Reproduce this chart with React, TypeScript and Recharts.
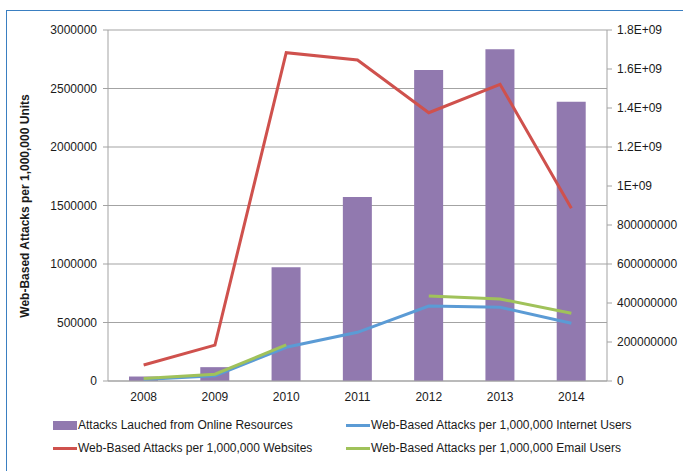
import { ComposedChart, Bar, Line, XAxis, YAxis, CartesianGrid } from 'recharts';

const YEARS = ['2008', '2009', '2010', '2011', '2012', '2013', '2014'];
const ATTACKS_LAUNCHED = [23000000, 71000000, 583000000, 944000000, 1595000000, 1701000000, 1432000000];
const PER_INTERNET_USERS = [12000, 45000, 288000, 416000, 641000, 630000, 493000];
const PER_WEBSITES = [137000, 307000, 2806000, 2744000, 2293000, 2536000, 1476000];
const PER_EMAIL_USERS = [22000, 58000, 308000, null, 727000, 701000, 579000];

const LEFT_TICKS = [0, 500000, 1000000, 1500000, 2000000, 2500000, 3000000];
const RIGHT_TICKS = [0, 200000000, 400000000, 600000000, 800000000, 1000000000, 1200000000, 1400000000, 1600000000, 1800000000];

const FONT = '"Liberation Sans", Arial, sans-serif';
const TEXT = '#1a1a1a';
const GRID = '#a3a3a3';

const SERIES = [
  { key: 'attacks', name: 'Attacks Lauched from Online Resources', color: '#9179af', kind: 'bar' },
  { key: 'internet', name: 'Web-Based Attacks per 1,000,000 Internet Users', color: '#5b9bd5', kind: 'line' },
  { key: 'websites', name: 'Web-Based Attacks per 1,000,000 Websites', color: '#cf514d', kind: 'line' },
  { key: 'email', name: 'Web-Based Attacks per 1,000,000 Email Users', color: '#a0c25a', kind: 'line' },
];

const data = YEARS.map((year, i) => ({
  year,
  attacks: ATTACKS_LAUNCHED[i],
  internet: PER_INTERNET_USERS[i],
  websites: PER_WEBSITES[i],
  email: PER_EMAIL_USERS[i],
}));

// excel style: big numbers go scientific
const rightFormat = (v: number) => (v >= 1e9 ? `${v / 1e9}E+09` : String(v));

const YTitle = () => (
  <text
    x={25}
    y={206}
    transform="rotate(-90 25 206)"
    textAnchor="middle"
    dominantBaseline="central"
    fontSize={12}
    fontWeight="bold"
    fill={TEXT}
    fontFamily={FONT}
  >
    Web-Based Attacks per 1,000,000 Units
  </text>
);

const legendPos = [
  { left: 53, top: 425 },
  { left: 346, top: 425 },
  { left: 53, top: 448 },
  { left: 346, top: 448 },
];

export default function App() {
  return (
    <div
      style={{
        position: 'absolute',
        left: 0,
        top: 0,
        width: 683,
        height: 471,
        overflow: 'hidden',
        background: '#fff',
        fontFamily: FONT,
      }}
    >
      <div
        style={{
          position: 'absolute',
          left: 6,
          top: 10,
          width: 720,
          height: 520,
          borderLeft: '1.5px solid #3a7fc1',
          borderTop: '1.5px solid #3a7fc1',
        }}
      />
      <div style={{ position: 'absolute', left: 0, top: 0 }}>
        <ComposedChart
          width={683}
          height={471}
          data={data}
          margin={{ top: 30, right: 0, left: 0, bottom: 0 }}
          style={{ fontFamily: FONT }}
        >
          <CartesianGrid yAxisId="left" vertical={false} stroke={GRID} />
          <XAxis
            dataKey="year"
            height={90}
            axisLine={{ stroke: GRID }}
            tickLine={false}
            tickSize={0}
            tickMargin={11}
            tick={{ fill: TEXT, fontSize: 12 }}
            interval={0}
          />
          <YAxis
            yAxisId="left"
            width={108}
            domain={[0, 3000000]}
            ticks={LEFT_TICKS}
            interval={0}
            axisLine={{ stroke: GRID }}
            tickLine={{ stroke: GRID }}
            tickSize={5}
            tickMargin={6}
            tick={{ fill: TEXT, fontSize: 12 }}
            label={{ content: () => <YTitle /> }}
          />
          <YAxis
            yAxisId="right"
            orientation="right"
            width={76}
            domain={[0, 1800000000]}
            ticks={RIGHT_TICKS}
            interval={0}
            axisLine={{ stroke: GRID }}
            tickLine={{ stroke: GRID }}
            tickSize={5}
            tickMargin={5}
            tick={{ fill: TEXT, fontSize: 12, textAnchor: 'start' }}
            tickFormatter={rightFormat}
          />
          <Bar
            yAxisId="right"
            dataKey="attacks"
            name={SERIES[0].name}
            fill={SERIES[0].color}
            barSize={29}
            isAnimationActive={false}
          />
          {SERIES.slice(1).map((s) => (
            <Line
              key={s.key}
              yAxisId="left"
              type="linear"
              dataKey={s.key}
              name={s.name}
              stroke={s.color}
              strokeWidth={3}
              dot={false}
              activeDot={false}
              connectNulls={false}
              isAnimationActive={false}
            />
          ))}
        </ComposedChart>
      </div>

      {SERIES.map((s, i) => (
        <div
          key={s.key}
          style={{
            position: 'absolute',
            left: legendPos[i].left,
            top: legendPos[i].top - 8,
            height: 16,
            display: 'flex',
            alignItems: 'center',
            fontSize: 12,
            color: TEXT,
            whiteSpace: 'nowrap',
          }}
        >
          <span
            style={{
              display: 'inline-block',
              width: 24,
              height: s.kind === 'bar' ? 9 : 3,
              background: s.color,
              marginRight: 1,
            }}
          />
          {s.name}
        </div>
      ))}
    </div>
  );
}
